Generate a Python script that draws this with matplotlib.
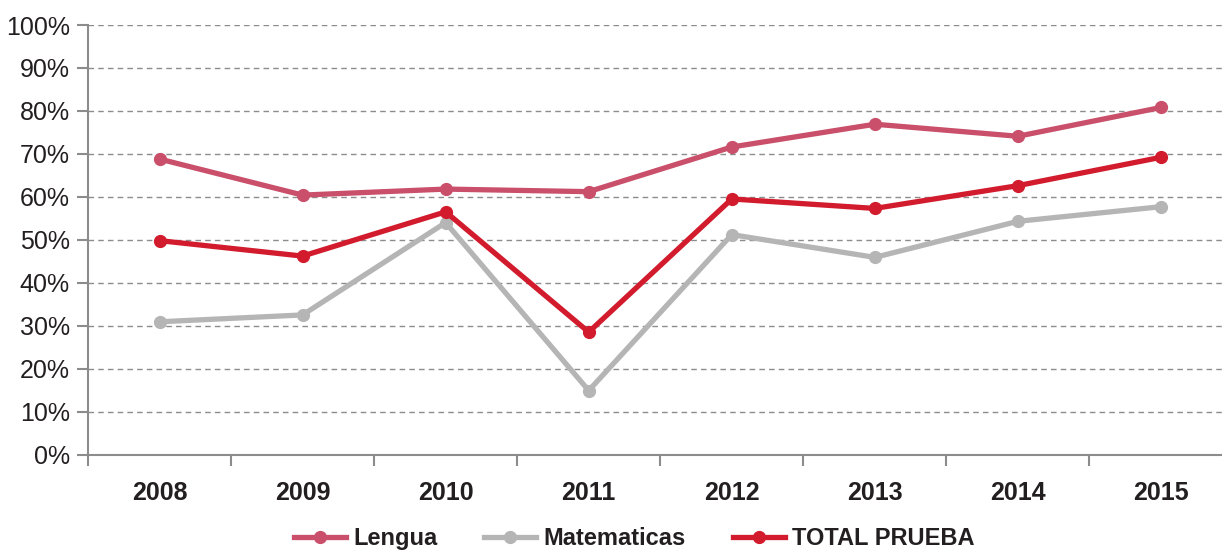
import matplotlib.pyplot as plt
from matplotlib.ticker import FuncFormatter

# --- data ---
years = ["2008", "2009", "2010", "2011", "2012", "2013", "2014", "2015"]
lengua = [68.8, 60.4, 61.8, 61.2, 71.6, 76.9, 74.1, 80.8]
matematicas = [30.9, 32.5, 54.0, 14.9, 51.2, 45.9, 54.3, 57.7]
total_prueba = [49.8, 46.2, 56.5, 28.5, 59.5, 57.3, 62.6, 69.2]

plt.rcParams['font.family'] = ['Liberation Sans', 'DejaVu Sans']

fig = plt.figure(figsize=(12.22, 5.51), dpi=100)
ax = fig.add_axes([0.072, 0.1751, 0.9366, 0.7795])

x = list(range(len(years)))
series = [
    ("Lengua", lengua, "#C94F6A"),
    ("Matematicas", matematicas, "#B5B5B5"),
    ("TOTAL PRUEBA", total_prueba, "#D21B2D"),
]
for name, vals, col in series:
    ax.plot(x, vals, color=col, lw=3.8, marker="o", markersize=8.5,
            label=name, solid_joinstyle="round", zorder=3)

# --- ejes ---
ax.set_xlim(-0.5, len(years) - 0.5)
ax.set_ylim(0, 100)
ax.set_yticks(range(0, 101, 10))
ax.yaxis.set_major_formatter(FuncFormatter(lambda v, p: f"{int(v)}%"))
ax.grid(axis="y", color="#8c8c8c", ls=(0, (4, 3)), lw=1.0)
ax.set_axisbelow(True)

ax.set_xticks([i - 0.5 for i in x] + [len(years) - 0.5])
ax.set_xticklabels([])
ax.set_xticks(x, minor=True)
ax.set_xticklabels(years, minor=True, fontsize=18, fontweight="bold",
                   color="#231f20")
ax.tick_params(axis="x", which="minor", length=0, pad=19)
ax.tick_params(axis="x", which="major", length=8, color="#8c8c8c", width=1.5)
ax.tick_params(axis="y", length=8, color="#8c8c8c", width=1.5,
               labelsize=18, labelcolor="#231f20", pad=5)

for s in ["top", "right"]:
    ax.spines[s].set_visible(False)
for s in ["left", "bottom"]:
    ax.spines[s].set_color("#8c8c8c")
    ax.spines[s].set_linewidth(1.5)

leg = fig.legend(loc="center", bbox_to_anchor=(0.519, 0.022), ncol=3,
                 frameon=False, handlelength=2.2,
                 columnspacing=2.0, handletextpad=0.3,
                 prop={"weight": "bold", "size": 17})
for t in leg.get_texts():
    t.set_color("#231f20")

fig.savefig("out.png", dpi=100)
